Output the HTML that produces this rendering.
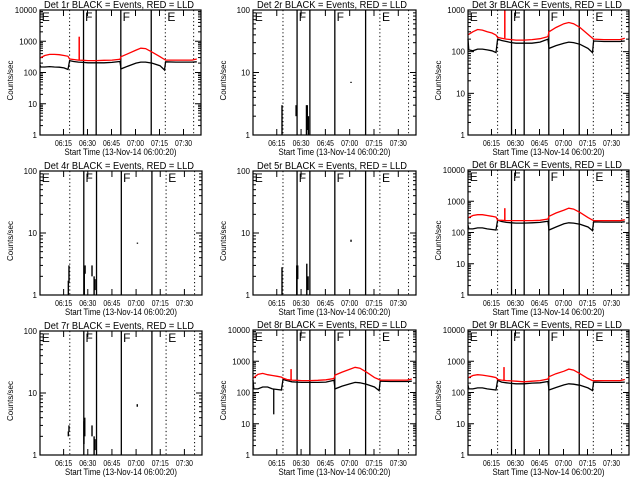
<!DOCTYPE html>
<html><head><meta charset="utf-8">
<style>
html,body{margin:0;padding:0;background:#fff;}
svg{display:block;font-family:"Liberation Sans",sans-serif;}
</style></head>
<body>
<svg id="chart" width="640" height="480" viewBox="0 0 640 480"></svg>
<script>
// shared time grid (minutes since 06:00:20)
const times = [0,0.5,3,6,9,12,15,17.5,18.5,21,24,27,30,35,40,45,50,50.6,55,60,63,66,70,75,77.8,78.5,85,90,95,98];
const xTickLabels = ["06:15","06:30","06:45","07:00","07:15","07:30"];
const xTickMinutes = [14.67,29.67,44.67,59.67,74.67,89.67];
const solidLines = [27.2,35.1,50.5,69.5];
const dottedLines = [18.5,78.3,96];
const modeLabels = ["E","F","F","E"];
const modeTimes = [0.5,27.6,51,79];

const black1 = [170,150,150,155,150,148,140,125,240,225,215,210,205,205,205,210,225,130,160,200,215,215,200,165,120,220,215,215,215,220];
const red1   = [300,300,350,380,380,370,350,330,270,260,250,245,240,240,245,250,265,320,400,520,600,580,450,320,260,250,250,250,250,270];
const black3 = [200,110,105,115,115,110,105,95,200,185,175,165,160,160,160,170,200,120,140,160,170,165,150,120,95,180,175,175,175,180];
const red3   = [260,260,300,340,330,300,280,250,220,210,200,195,190,190,195,205,230,300,380,470,500,470,380,260,210,200,195,195,195,210];
const black6 = [170,130,130,140,140,130,125,120,250,225,210,205,200,200,205,210,230,120,150,190,205,200,185,150,115,220,215,215,215,220];
const red6   = [300,300,350,370,370,350,330,310,250,245,240,240,240,240,240,245,270,330,420,520,600,560,440,300,250,240,240,240,240,255];
const black8 = [250,130,130,150,150,130,125,120,260,240,220,215,210,210,210,215,245,130,160,190,210,205,185,150,115,230,225,225,225,230];
const red8   = [300,300,380,410,370,350,330,310,290,260,250,245,240,240,245,255,280,360,450,560,640,600,450,300,260,250,250,250,250,270];
const black9 = [170,130,130,140,140,130,125,120,245,215,205,195,190,190,200,205,225,120,145,175,190,185,170,140,115,215,210,210,210,215];
const red9   = [300,300,350,370,360,340,320,300,260,250,240,235,230,220,230,240,270,320,400,480,560,520,400,280,240,240,240,240,240,260];

const spikeT1 = [24.5], spikeV1 = [1400];
const spikeT3 = [23], spikeV3 = [2000];
const spikeT6 = [23], spikeV6 = [600];
const spikeT8 = [23.5], spikeV8 = [560];
const spikeT9 = [22.5], spikeV9 = [650];
// black dips
const dipT8 = [12.8], dipV8 = [20];

// sparse panels: vertical segments (time, low, high)
const sparseT2 = [17.9,26.6,33.0,33.5,34.2,60.5];
const sparseLo2 = [1,2,1,1.2,1,6.8];
const sparseHi2 = [3,3,3,3,2,7.1];
const sparseT4 = [17.6,18.0,27.5,28.0,32.3,33.6,34.2,60.5];
const sparseLo4 = [1,1.6,1,2.2,2,1,1.2,6.7];
const sparseHi4 = [1.7,3,2.5,3,3,2,1.8,7];
const sparseT5 = [17.9,27.0,27.6,33.2,34.0,60.5];
const sparseLo5 = [1,1,1.8,1,1.2,7.2];
const sparseHi5 = [2.8,3,3,3.2,2,7.8];
const sparseT7 = [17.6,18.0,27.3,27.8,32.3,33.6,34.2,60.4];
const sparseLo7 = [2,2.4,1.5,2,2,1,1.2,6];
const sparseHi7 = [2.4,3,3.5,4,3,2,1.8,6.6];

const panels = [
 {id:1,L:40,T:10,W:161,H:125,dec:4,black:black1,red:red1,sT:spikeT1,sV:spikeV1},
 {id:2,L:253,T:10,W:163,H:125,dec:2,sparse:[sparseT2,sparseLo2,sparseHi2]},
 {id:3,L:468,T:10,W:161,H:125,dec:3,black:black3,red:red3,sT:spikeT3,sV:spikeV3},
 {id:4,L:40,T:171,W:162,H:124,dec:2,sparse:[sparseT4,sparseLo4,sparseHi4]},
 {id:5,L:253,T:171,W:163,H:124,dec:2,sparse:[sparseT5,sparseLo5,sparseHi5]},
 {id:6,L:468,T:170,W:161,H:125,dec:4,black:black6,red:red6,sT:spikeT6,sV:spikeV6},
 {id:7,L:40,T:331,W:162,H:124,dec:2,sparse:[sparseT7,sparseLo7,sparseHi7]},
 {id:8,L:253,T:330,W:163,H:125,dec:4,black:black8,red:red8,sT:spikeT8,sV:spikeV8,dT:dipT8,dV:dipV8},
 {id:9,L:468,T:330,W:161,H:125,dec:4,black:black9,red:red9,sT:spikeT9,sV:spikeV9}
];
const NS="http://www.w3.org/2000/svg";
const svg=document.getElementById('chart');
function mk(tag,attrs,parent){const e=document.createElementNS(NS,tag);for(const k in attrs)e.setAttribute(k,attrs[k]);(parent||svg).appendChild(e);return e;}
const TMAX=100.6;

panels.forEach(p=>{
  const g=mk('g',{});
  
  
  const xs=t=>p.L+t/TMAX*p.W;
  const ys=v=>p.T+p.H-Math.log10(Math.max(v,1))/p.dec*p.H;
  const clipY=y=>Math.max(p.T,Math.min(p.T+p.H,y));
  const tt=mk('text',{x:p.L+4,y:p.T-2,'font-size':'10',textLength:'150',lengthAdjust:'spacingAndGlyphs',fill:'#000'},g);
  tt.textContent='Det '+p.id+'r BLACK = Events, RED = LLD';
  
  
  const yl=mk('text',{x:0,y:0,'font-size':'8','text-anchor':'middle',transform:`translate(${p.L-27},${p.T+p.H/2+8}) rotate(-90)`},g);
  yl.textContent='Counts/sec';
  
  
  const xl=mk('text',{x:p.L+p.W/2,y:p.T+p.H+20,'font-size':'9.5','text-anchor':'middle',textLength:'112',lengthAdjust:'spacingAndGlyphs'},g);
  xl.textContent='Start Time (13-Nov-14 06:00:20)';
  
  
  for(let d=0;d<=p.dec;d++){
    const y=ys(Math.pow(10,d));
    mk('line',{x1:p.L,x2:p.L+6,y1:y,y2:y,stroke:'#000'},g);
    mk('line',{x1:p.L+p.W-6,x2:p.L+p.W,y1:y,y2:y,stroke:'#000'},g);
    const lab=mk('text',{x:p.L-3,y:y+3,'font-size':'8','text-anchor':'end'},g);
    lab.textContent=String(Math.pow(10,d));
    
    
    if(d<p.dec){for(let m=2;m<10;m++){const yy=ys(m*Math.pow(10,d));
      mk('line',{x1:p.L,x2:p.L+3,y1:yy,y2:yy,stroke:'#000'},g);
      mk('line',{x1:p.L+p.W-3,x2:p.L+p.W,y1:yy,y2:yy,stroke:'#000'},g);}}
  }
  xTickMinutes.forEach((t,i)=>{
    const x=xs(t);
    mk('line',{x1:x,x2:x,y1:p.T+p.H,y2:p.T+p.H-6,stroke:'#000'},g);
    mk('line',{x1:x,x2:x,y1:p.T,y2:p.T+6,stroke:'#000'},g);
    const lab=mk('text',{x:x,y:p.T+p.H+11,'font-size':'8','text-anchor':'middle',textLength:'17',lengthAdjust:'spacingAndGlyphs'},g);
    lab.textContent=xTickLabels[i];
    
    
  });
  solidLines.forEach(t=>{const l=mk('line',{x1:xs(t),x2:xs(t),y1:p.T,y2:p.T+p.H,stroke:'#000','stroke-width':1.3},g);
    });
  dottedLines.forEach(t=>{const l=mk('line',{x1:xs(t),x2:xs(t),y1:p.T,y2:p.T+p.H,stroke:'#000','stroke-dasharray':'1.2,2.5'},g);
    });
  modeLabels.forEach((s,i)=>{const t=mk('text',{x:xs(modeTimes[i])+1,y:p.T+11,'font-size':'12'},g);
    t.textContent=s;});
  if(p.black){
    const line=arr=>arr.map((v,i)=>(i?'L':'M')+xs(times[i]).toFixed(1)+','+clipY(ys(v)).toFixed(1)).join(' ');
    const bl=mk('path',{d:line(p.black),fill:'none',stroke:'#000','stroke-width':1.3},g);
    
    const rl=mk('path',{d:line(p.red),fill:'none',stroke:'#f00','stroke-width':1.3},g);
    
    p.sT.forEach((t,i)=>{
      let k=0;while(k<times.length-1&&times[k+1]<=t)k++;
      const s=mk('line',{x1:xs(t),x2:xs(t),y1:ys(p.red[k]),y2:clipY(ys(p.sV[i])),stroke:'#f00','stroke-width':1.5},g);
      
    });
    (p.dT||[]).forEach((t,i)=>{
      let k=0;while(k<times.length-1&&times[k+1]<=t)k++;
      const s=mk('line',{x1:xs(t),x2:xs(t),y1:ys(p.black[k]),y2:ys(p.dV[i]),stroke:'#000','stroke-width':1.3},g);
      
    });
  }
  if(p.sparse){
    const [st,lo,hi]=p.sparse;
    st.forEach((t,i)=>{
      const s=mk('line',{x1:xs(t),x2:xs(t),y1:ys(lo[i]),y2:Math.min(ys(hi[i]),ys(lo[i])-1),stroke:'#000','stroke-width':1.4},g);
      
    });
  }
  const fr=mk('rect',{x:p.L,y:p.T,width:p.W,height:p.H,fill:'none',stroke:'#000','stroke-width':1.2},g);
  
});
</script>
</body></html>
